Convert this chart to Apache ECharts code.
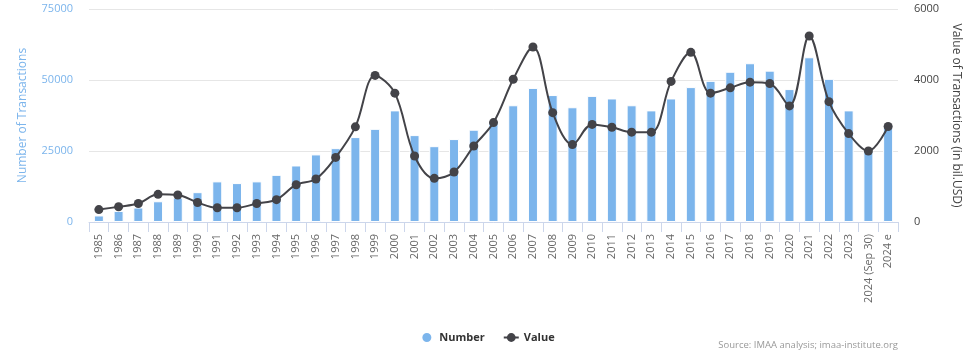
<!DOCTYPE html>
<html>
<head>
<meta charset="utf-8">
<script src="https://cdn.jsdelivr.net/npm/echarts@6/dist/echarts.min.js"></script>
<style>
html,body{margin:0;padding:0;background:#fff;}
#chart{width:975px;height:363px;}
</style>
</head>
<body>
<div id="chart"></div>
<script>
const categories = ['1985','1986','1987','1988','1989','1990','1991','1992','1993','1994','1995','1996','1997','1998','1999','2000','2001','2002','2003','2004','2005','2006','2007','2008','2009','2010','2011','2012','2013','2014','2015','2016','2017','2018','2019','2020','2021','2022','2023','2024 (Sep 30)','2024 e'];
const numberValues = [2300,3900,5100,7300,8600,10500,14300,13700,14300,16600,19900,23800,26000,29900,32800,39300,30600,26700,29200,32500,35300,41100,47200,44700,40400,44400,43500,41100,39300,43500,47500,49700,52900,55900,53300,46800,58000,50400,39300,25000,33800];
const valueValues = [350,430,520,780,760,550,400,400,520,630,1050,1210,1820,2680,4130,3630,1860,1230,1410,2140,2800,4020,4930,3080,2180,2750,2670,2530,2530,3960,4780,3630,3780,3940,3900,3270,5240,3390,2490,2000,2690];
const leftTicks = {min:0, max:75000, interval:25000};
const rightTicks = {min:0, max:6000, interval:2000};

const FONT = '"Open Sans", "DejaVu Sans", sans-serif';
const plain = v => String(v);
const chart = echarts.init(document.getElementById('chart'));
chart.setOption({
  animation:false,
  textStyle:{fontFamily:FONT},
  grid:{left:89,right:77,top:9,bottom:141},
  legend:{
    data:[{name:'Number', icon:'circle'}, {name:'Value'}],
    left:'center', top:326,
    itemGap:18, itemWidth:15, itemHeight:11,
    textStyle:{fontFamily:FONT,fontSize:11,fontWeight:'bold',color:'#333'}
  },
  graphic:[{
    type:'text', right:77, top:340,
    style:{text:'Source: IMAA analysis; imaa-institute.org', fill:'#999', font:'9.5px '+FONT}
  }],
  xAxis:{
    type:'category', data:categories, boundaryGap:true,
    axisLine:{lineStyle:{color:'#ccd6eb'}},
    axisTick:{show:true, alignWithLabel:false, length:10, lineStyle:{color:'#ccd6eb'}},
    axisLabel:{interval:0, rotate:90, color:'#666', fontSize:11, margin:12, fontFamily:FONT}
  },
  yAxis:[{
    type:'value', position:'left', min:leftTicks.min, max:leftTicks.max, interval:leftTicks.interval,
    name:'Number of Transactions', nameLocation:'middle', nameRotate:90, nameGap:60,
    nameTextStyle:{color:'#7cb5ec', fontSize:12, fontFamily:FONT},
    axisLabel:{color:'#7cb5ec', fontSize:11, margin:16, fontFamily:FONT, formatter:plain},
    axisLine:{show:false}, axisTick:{show:false},
    splitLine:{lineStyle:{color:'#e6e6e6'}}
  },{
    type:'value', position:'right', min:rightTicks.min, max:rightTicks.max, interval:rightTicks.interval,
    name:'Value of Transactions (in bil.USD)', nameLocation:'middle', nameRotate:-90, nameGap:52,
    nameTextStyle:{color:'#444', fontSize:12, fontFamily:FONT},
    axisLabel:{color:'#444', fontSize:11, margin:16, fontFamily:FONT, formatter:plain},
    axisLine:{show:false}, axisTick:{show:false},
    splitLine:{show:false}
  }],
  series:[{
    name:'Number', type:'bar', yAxisIndex:0, data:numberValues,
    barWidth:10,
    itemStyle:{color:'#7cb5ec', borderColor:'#fff', borderWidth:1},
  },{
    name:'Value', type:'line', yAxisIndex:1, data:valueValues,
    smooth:0.35, symbol:'circle', symbolSize:9,
    lineStyle:{color:'#434348', width:2},
    itemStyle:{color:'#434348'}
  }]
});
</script>
</body>
</html>
